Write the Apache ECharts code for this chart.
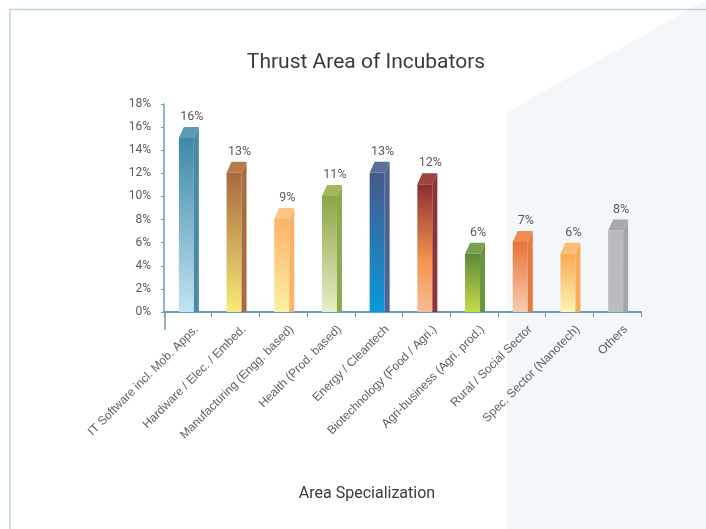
<!DOCTYPE html>
<html lang="en">
<head>
    <meta charset="utf-8">
    <title>Thrust Area of Incubators</title>
    <script src="https://cdn.jsdelivr.net/npm/echarts@6/dist/echarts.min.js"></script>
    <style>
        html, body { margin: 0; padding: 0; background: #fff; }
        #main { width: 706px; height: 529px; }
    </style>
</head>
<body>
<div id="main"></div>
<script>
    // data
    var categories = ['IT Software incl. Mob. Apps.', 'Hardware / Elec. / Embed.', 'Manufacturing (Engg. based)',
        'Health (Prod. based)', 'Energy / Cleantech', 'Biotechnology (Food / Agri.)', 'Agri-business (Agri. prod.)',
        'Rural / Social Sector', 'Spec. Sector (Nanotech)', 'Others'];
    var shares = [16, 13, 9, 11, 13, 12, 6, 7, 6, 8];

    // colours per bar: [front top, front bottom, side, top face]
    var barColors = [
        ['#3f88a6', '#c2e4f2', '#4a8aa5', '#5b9bb6'],
        ['#a7693c', '#f8ea7a', '#a86c40', '#b87a48'],
        ['#fbb26a', '#fcf0a2', '#fbb266', '#fdc486'],
        ['#8ca646', '#e6eec8', '#8fa84c', '#a2b860'],
        ['#47598a', '#0a98da', '#4f6390', '#5a6e9a'],
        ['#8a2f30', '#f5bd94', '#8d3434', '#9c4440'],
        ['#5e8838', '#c4dc48', '#6a9242', '#78a04e'],
        ['#e8733a', '#f6cdb0', '#e87a3e', '#ef8c52'],
        ['#f9ab56', '#fcf3b4', '#faac5a', '#fbbd74'],
        ['#b9babd', '#bcbdc0', '#a4a5a8', '#a8a9ac']
    ];

    var chart = echarts.init(document.getElementById('main'));

    function renderBar(params, api) {
        var idx = api.value(0);
        var top = api.coord([idx, api.value(1)]);
        var base = api.coord([idx, 0]);
        var cx = top[0], yb = top[1], y0 = base[1];
        var c = barColors[idx];
        var l = cx - 9, r = cx + 6, dx = 5, dy = 11;
        return {
            type: 'group',
            children: [
                {
                    type: 'rect',
                    shape: { x: l, y: yb + dy, width: r - l, height: y0 - yb - dy },
                    style: {
                        fill: new echarts.graphic.LinearGradient(0, 0, 0, 1, idx === 5 ? [
                            { offset: 0, color: c[0] }, { offset: 0.6, color: '#f4944f' }, { offset: 1, color: c[1] }
                        ] : [
                            { offset: 0, color: c[0] }, { offset: 1, color: c[1] }
                        ])
                    }
                },
                {
                    type: 'polygon',
                    shape: { points: [[r, yb + dy], [r + dx, yb], [r + dx, y0], [r, y0]] },
                    style: { fill: c[2] }
                },
                {
                    type: 'polygon',
                    shape: { points: [[l, yb + dy], [l + dx, yb], [r + dx, yb], [r, yb + dy]] },
                    style: { fill: c[3] }
                },
                {
                    type: 'text',
                    x: cx + 4,
                    y: yb - 10,
                    style: {
                        text: api.value(1) + '%',
                        fill: '#5a5a5a',
                        font: '12.5px Roboto',
                        align: 'center',
                        verticalAlign: 'middle'
                    }
                }
            ]
        };
    }

    chart.setOption({
        animation: false,
        title: [{
            text: 'Thrust Area of Incubators',
            left: 361,
            top: 47,
            textAlign: 'center',
            textStyle: { fontFamily: 'Roboto', fontSize: 21, fontWeight: 'normal', color: '#3b3b3b' }
        }, {
            text: 'Area Specialization',
            left: 362,
            top: 481,
            textAlign: 'center',
            textStyle: { fontFamily: 'Roboto', fontSize: 16, fontWeight: 'normal', color: '#3b3b3b' }
        }],
        graphic: [
            {
                type: 'polygon', z: -10, silent: true,
                shape: { points: [[507, 112], [706, 0], [706, 529], [507, 529]] },
                style: { fill: '#f3f7f9' }
            },
            {
                type: 'polyline', z: -5, silent: true,
                shape: { points: [[10, 529], [10, 9.5], [706, 9.5]] },
                style: { stroke: '#bcd6e2', lineWidth: 1.5, fill: null }
            },
            {
                type: 'line', z: 5, silent: true,
                shape: { x1: 165, y1: 312, x2: 165, y2: 330 },
                style: { stroke: '#6b9fb6', lineWidth: 1.5 }
            }
        ],
        grid: { left: 164, right: 65, top: 104, bottom: 217 },
        xAxis: {
            type: 'category',
            data: categories,
            axisLine: { lineStyle: { color: '#6b9fb6', width: 2 } },
            axisTick: { show: true, length: 5, lineStyle: { color: '#888' } },
            axisLabel: {
                rotate: 45, margin: 7, verticalAlign: 'top', padding: [6, 0, 0, 0],
                fontFamily: 'Liberation Sans', fontSize: 12, color: '#5e5e5e'
            }
        },
        yAxis: {
            type: 'value',
            min: 0,
            max: 18,
            interval: 2,
            splitLine: { show: false },
            axisLine: { show: true, lineStyle: { color: '#6b9fb6', width: 1.5 } },
            axisTick: { show: true, length: 3, lineStyle: { color: '#6b9fb6' } },
            axisLabel: { formatter: '{value}%', margin: 13, fontFamily: 'Roboto', fontSize: 12, color: '#5a5a5a' }
        },
        series: [{
            type: 'custom',
            renderItem: renderBar,
            encode: { x: 0, y: 1 },
            data: shares.map(function (v, i) { return [i, v]; })
        }]
    });
</script>
</body>
</html>
